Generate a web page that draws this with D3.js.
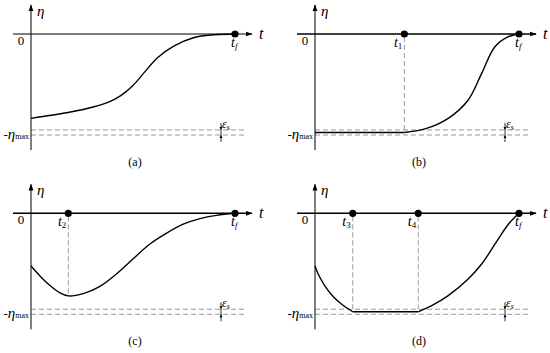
<!DOCTYPE html>
<html><head><meta charset="utf-8">
<script src="https://cdn.jsdelivr.net/npm/d3@7"></script>
<style>
html,body{margin:0;padding:0;background:#fff;}
</style></head>
<body><svg id="c" width="550" height="353"></svg>
<script>
// ---- data (t normalised so tf = 1, eta normalised so eta_max = 1) ----
const panelNames = ["(a)", "(b)", "(c)", "(d)"];
const epsS = 0.05;
const curveA_t   = [0, 0.1, 0.2, 0.3, 0.38, 0.44, 0.5, 0.56, 0.62, 0.7, 0.8, 0.9, 1];
const curveA_eta = [-0.835, -0.805, -0.77, -0.725, -0.675, -0.61, -0.51, -0.37, -0.235, -0.12, -0.035, -0.008, 0];
const curveB_t   = [0, 0.438, 0.539, 0.653, 0.751, 0.817, 0.882, 0.948, 1];
const curveB_eta = [-0.975, -0.975, -0.94, -0.835, -0.653, -0.39, -0.126, -0.027, 0];
const curveC_t   = [0, 0.044, 0.093, 0.142, 0.183, 0.256, 0.338, 0.42, 0.501, 0.583, 0.665, 0.746, 0.828, 0.91, 1];
const curveC_eta = [-0.522, -0.62, -0.715, -0.788, -0.818, -0.795, -0.723, -0.598, -0.45, -0.304, -0.196, -0.108, -0.052, -0.02, 0];
const curveD_t   = [0, 0.016, 0.049, 0.09, 0.131, 0.185, 0.506, 0.572, 0.653, 0.751, 0.817, 0.882, 0.948, 1];
const curveD_eta = [-0.522, -0.604, -0.72, -0.826, -0.901, -0.975, -0.975, -0.915, -0.815, -0.65, -0.502, -0.306, -0.108, 0];
const markerA = [];            // intermediate times marked on the t axis
const markerB = [0.438];
const markerC = [0.183];
const markerD = [0.185, 0.506];
const markerLabelsA = [];
const markerLabelsB = ["1"];
const markerLabelsC = ["2"];
const markerLabelsD = ["3", "4"];
// points where the curve has a corner (segments split there)
const breaksA = [];
const breaksB = [0.438];
const breaksC = [];
const breaksD = [0.185, 0.506];

const curvesT = [curveA_t, curveB_t, curveC_t, curveD_t];
const curvesE = [curveA_eta, curveB_eta, curveC_eta, curveD_eta];
const markers = [markerA, markerB, markerC, markerD];
const markerLabels = [markerLabelsA, markerLabelsB, markerLabelsC, markerLabelsD];
const breaks = [breaksA, breaksB, breaksC, breaksD];

// ---- layout ----
const FONT = "'Liberation Serif','DejaVu Serif','Times New Roman',serif";
const svg = d3.select("#c");
const panelOrigins = [[31, 34], [315, 34], [31, 213.3], [315, 213.3]];
const tWidth = 204, etaHeight = 101;

const defs = svg.append("defs");
defs.append("marker").attr("id","arr").attr("viewBox","0 0 10 10").attr("refX",9).attr("refY",5)
  .attr("markerWidth",7).attr("markerHeight",7).attr("markerUnits","userSpaceOnUse").attr("orient","auto")
  .append("path").attr("d","M0,1.5L10,5L0,8.5z").attr("fill","#000");

function txt(g, x, y, size) {
  return g.append("text").attr("x", x).attr("y", y).attr("font-size", size)
    .attr("font-family", FONT).attr("fill", "#000");
}

panelOrigins.forEach(([x0, y0], i) => {
  const g = svg.append("g");
  const x = d3.scaleLinear().domain([0, 1]).range([x0, x0 + tWidth]);
  const y = d3.scaleLinear().domain([-1, 0]).range([y0 + etaHeight, y0]);

  // dashed band -eta_max .. -eta_max+eps
  [-1, -1 + epsS].forEach(v => {
    g.append("line").attr("x1", x(0)).attr("x2", x(1) + 12).attr("y1", y(v)).attr("y2", y(v))
      .attr("stroke", "#9a9a9a").attr("stroke-width", 1).attr("stroke-dasharray", "5,3");
  });

  // vertical dashed lines from markers
  const ct = curvesT[i], ce = curvesE[i];
  markers[i].forEach(m => {
    const idx = ct.indexOf(m);
    g.append("line").attr("x1", x(m)).attr("x2", x(m)).attr("y1", y(0) + 3).attr("y2", y(ce[idx]))
      .attr("stroke", "#9a9a9a").attr("stroke-width", 1).attr("stroke-dasharray", "5,3");
  });

  // axes
  g.append("line").attr("x1", x(0)).attr("x2", x(0)).attr("y1", y0 + 116).attr("y2", y0 - 29)
    .attr("stroke", "#000").attr("stroke-width", 1).attr("marker-end", "url(#arr)");
  g.append("line").attr("x1", x(0) - 18).attr("x2", x(1) + 17).attr("y1", y(0)).attr("y2", y(0))
    .attr("stroke", "#000").attr("stroke-width", i === 0 ? 1 : 1.5).attr("marker-end", "url(#arr)");

  // curve, split into smooth segments at corner points
  const pts = ct.map((t, k) => [t, ce[k]]);
  const cuts = [0].concat(breaks[i].map(b => ct.indexOf(b)), [ct.length - 1]);
  const line = d3.line().x(d => x(d[0])).y(d => y(d[1])).curve(d3.curveCatmullRom.alpha(0.5));
  for (let s = 0; s < cuts.length - 1; s++) {
    g.append("path").datum(pts.slice(cuts[s], cuts[s + 1] + 1))
      .attr("d", line)
      .attr("fill", "none").attr("stroke", "#000").attr("stroke-width", 1.4).attr("stroke-linejoin", "round");
  }

  // dots
  markers[i].concat([1]).forEach(m => {
    g.append("circle").attr("cx", x(m)).attr("cy", y(0)).attr("r", 3.6).attr("fill", "#000");
  });

  // labels
  txt(g, x(0) + 6, y0 - 18, 15).attr("font-style", "italic").text("η");
  txt(g, x(1) + 24, y(0) + 5, 16).attr("font-style", "italic").text("t");
  txt(g, x(0) - 10, y(0) + 11, 13).attr("text-anchor", "middle").text("0");

  const tf = txt(g, x(1) - 4, y(0) + 13, 14).attr("font-style", "italic");
  tf.append("tspan").text("t");
  tf.append("tspan").attr("font-size", 9).attr("dy", 2).text("f");

  markers[i].forEach((m, k) => {
    const tx = txt(g, x(m) - 2, y(0) + 13, 14).attr("text-anchor", "end");
    tx.append("tspan").attr("font-style", "italic").text("t");
    tx.append("tspan").attr("font-size", 9).attr("dy", 2).text(markerLabels[i][k]);
  });

  const em = txt(g, x(0) - 2, y(-1) + 4, 13).attr("text-anchor", "end");
  em.append("tspan").text("-");
  em.append("tspan").attr("font-style", "italic").attr("font-size", 15).text("η");
  em.append("tspan").attr("font-size", 8).text("max");

  // eps_s indicator
  const ex = x(1) - 14;
  const yt = y(-1 + epsS), yb = y(-1);
  g.append("line").attr("x1", ex).attr("x2", ex).attr("y1", yt - 7).attr("y2", yb + 7)
    .attr("stroke", "#000").attr("stroke-width", 0.8);
  g.append("path").attr("d", `M${ex - 1.5},${yt - 3}L${ex + 1.5},${yt - 3}L${ex},${yt}Z`).attr("fill", "#000");
  g.append("path").attr("d", `M${ex - 1.5},${yb + 3}L${ex + 1.5},${yb + 3}L${ex},${yb}Z`).attr("fill", "#000");
  const es = txt(g, ex + 1, yt - 2, 12).attr("font-style", "italic");
  es.append("tspan").text("ε");
  es.append("tspan").attr("font-size", 8).attr("dy", 2).text("s");

  // caption
  txt(g, x0 + 104, y0 + 132, 12).attr("text-anchor", "middle").text(panelNames[i]);
});
</script></body></html>
